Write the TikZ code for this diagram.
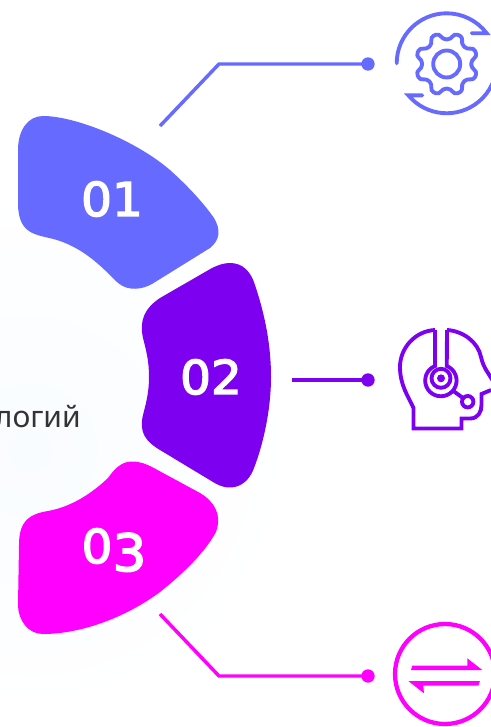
\documentclass[tikz,border=0pt]{standalone}
\usepackage{fontspec}
\setmainfont{Noto Sans}
\newfontfamily\numfont[FakeBold=3,FakeStretch=1.04]{DejaVu Sans}
\definecolor{cA}{HTML}{666AFF}
\definecolor{cB}{HTML}{7D00F0}
\definecolor{cC}{HTML}{FF00FF}
\definecolor{bgtint}{HTML}{F9FCFF}
\definecolor{txt}{HTML}{333333}
\tikzset{
  num/.style={text=white,inner sep=0,font=\numfont\fontsize{35}{35}\selectfont},
  link/.style={line width=2.6pt,line join=miter},
  dotend/.style={circle,inner sep=0,minimum size=10pt},
  icon/.style={line width=2.9pt},
}
\begin{document}
\begin{tikzpicture}[x=0.75pt,y=-0.75pt]
\useasboundingbox (0,0) rectangle (491,727);
\begin{scope}
\clip (0,0) rectangle (491,727);
\fill[white] (0,0) rectangle (491,727);
\shade[inner color=bgtint,outer color=white] (30,450) circle (270);
% blobs
\fill[cA] (18,150) .. controls (18,130) and (28,116) .. (43,116)
  .. controls (75,116) and (135,140) .. (170,170)
  .. controls (190,188) and (205,205) .. (214,218)
  .. controls (221,230) and (220,240) .. (210,248)
  -- (152,284) .. controls (143,289) and (129,292) .. (118,283)
  .. controls (100,265) and (85,250) .. (60,241)
  .. controls (40,234) and (19,238) .. (18,205) -- cycle;
\fill[cB] (230,263) .. controls (243,263) and (251,272) .. (255,285)
  .. controls (265,315) and (271,345) .. (271,377)
  .. controls (271,410) and (263,445) .. (254,468)
  .. controls (248,485) and (232,494) .. (213,482)
  -- (160,450) .. controls (145,441) and (139,432) .. (143,415)
  .. controls (147,400) and (149,390) .. (149,377)
  .. controls (149,360) and (146,350) .. (143,338)
  .. controls (139,320) and (145,308) .. (160,298)
  -- (212,268) .. controls (218,265) and (224,263) .. (230,263) -- cycle;
\fill[cC] (132,461.5) .. controls (140,461.5) and (146,464) .. (152,467)
  -- (200,493) .. controls (215,502) and (222,515) .. (216,532)
  .. controls (205,552) and (185,572) .. (160,592)
  .. controls (125,618) and (80,634) .. (43,634)
  .. controls (28,634) and (18,620) .. (18,605)
  -- (19,545) .. controls (19,520) and (30,514) .. (48,511)
  .. controls (70,507) and (90,495) .. (108,478)
  .. controls (115,468) and (122,461.5) .. (132,461.5) -- cycle;
% numbers
\node[num] (n1) at (112,199) {01};
\node[num] (n2) at (211,377) {02};
\node[num,anchor=base] (n3) at (114,563) {0\raisebox{-6pt}{\scalebox{1.1}{3}}};
% text
\node[text=txt,anchor=base east,inner sep=0,font=\fontsize{22.5}{22.5}\selectfont] (t) at (81,427) {логий};
% connectors
\coordinate (a0) at (160,126); \coordinate (a1) at (219,64);
\coordinate (b0) at (292,380);
\coordinate (c0) at (160,614); \coordinate (c1) at (219,676);
\node[dotend,fill=cA] (da) at (368,64) {};
\node[dotend,fill=cB] (db) at (368,380) {};
\node[dotend,fill=cC] (dc) at (368,676) {};
\draw[link,cA] (a0) -- (a1) -- (da.center);
\draw[link,cB] (b0) -- (db.center);
\draw[link,cC] (c0) -- (c1) -- (dc.center);
% gear icon
\begin{scope}[icon,cA]
\draw[line cap=round] (396.7,63.3) arc[start angle=180,end angle=323,radius=50] -- ++(-15,0);
\coordinate (bs) at (408.4,95.4);
\draw[line cap=round] (bs) ++(14,0) -- (bs) arc[start angle=140,end angle=0,radius=50];
\begin{scope}[shift={(446.7,64)}]
\draw (0,0) circle (13.5);
\draw[rounded corners=2.6pt,line join=round] (9.5:25)
 \foreach \k in {0,...,7}{ -- ({22.5+45*\k-8.5}:31.5) -- ({22.5+45*\k+8.5}:31.5) -- ({22.5+45*\k+13}:25) -- ({22.5+45*\k+32}:25) } -- cycle;
\end{scope}
\end{scope}
% head icon
\begin{scope}[icon,cB]
\draw[line join=miter] (435,330) .. controls (415,331) and (400,348) .. (400,367)
  .. controls (400,385) and (408,396) .. (413.5,408) -- (413.5,428.5) -- (461.5,428.5) -- (461.5,418.5) -- (470,418.5)
  .. controls (478,418.5) and (481.5,412) .. (481.5,405) -- (481.5,394) -- (491,390);
\draw (493,381) -- (488,373) .. controls (484,367) and (482,362) .. (481,357)
  .. controls (478,342) and (463,331) .. (447,330);
\draw (435,330) -- (435,366) arc[start angle=248,end angle=-68,radius=15.7] -- (447,330);
\draw (441,378.3) circle (9.5);
\fill (441,378.3) circle (4);
\draw (452,390) -- (463,398);
\draw (467.7,401.7) circle (5.7);
\end{scope}
% arrows icon
\draw[cC,line width=3.2pt] (445,674) circle (50);
\fill[cC] (412.3,665.7) -- (467.3,665.7) -- (467.3,658.3) -- (482.3,670) -- (411,670) -- cycle;
\fill[cC] (408.3,681) -- (480,681) -- (478.3,685.7) -- (423.3,685.7) -- (424,693.3) -- cycle;
\end{scope}
\end{tikzpicture}
\end{document}
